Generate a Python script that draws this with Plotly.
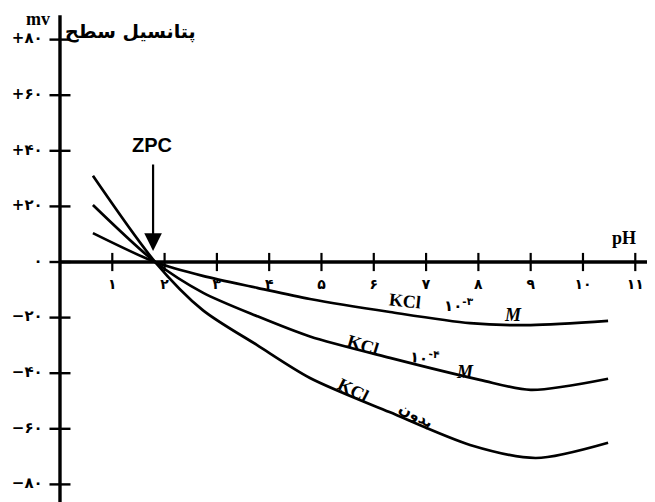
import plotly.graph_objects as go

# ---------------- data ----------------
x_ticks = [1, 2, 3, 4, 5, 6, 7, 8, 9, 10, 11]
x_tick_labels = ["۱", "۲", "۳", "۴", "۵", "۶", "۷", "۸", "۹", "۱۰", "۱۱"]
y_ticks = [80, 60, 40, 20, 0, -20, -40, -60, -80]
y_tick_labels = ["+۸۰", "+۶۰", "+۴۰", "+۲۰", "۰", "−۲۰", "−۴۰", "−۶۰", "−۸۰"]

# without KCl
ph_none = [0.63, 1.82, 2.73, 3.77, 4.78, 6.3, 7.84, 9.1, 10.48]
mv_none = [31, 0, -17.3, -29.9, -41.7, -54, -65.8, -70.5, -65]
# KCl 10^-4 M
ph_e4 = [0.63, 1.82, 2.73, 3.77, 4.78, 6.31, 8.03, 9.0, 10.48]
mv_e4 = [20.5, 0, -11.0, -19.5, -26.8, -34.5, -42.4, -46, -42]
# KCl 10^-3 M
ph_e3 = [0.63, 1.82, 2.73, 3.77, 4.78, 6.31, 7.84, 9.0, 10.48]
mv_e3 = [10.4, 0, -5.0, -9.3, -13.3, -18, -22, -22.7, -21.2]

zpc = 1.78

# ---------------- figure ----------------
fig = go.Figure()
ink = "#000000"

for xs, ys in [(ph_none, mv_none), (ph_e4, mv_e4), (ph_e3, mv_e3)]:
    fig.add_trace(go.Scatter(x=xs, y=ys, mode="lines",
                             line=dict(color=ink, width=2.7, shape="spline", smoothing=0.8),
                             hoverinfo="skip", showlegend=False))

# axis lines
fig.add_shape(type="line", x0=0, x1=0, y0=-95, y1=88.8, line=dict(color=ink, width=3.4))
fig.add_shape(type="line", x0=0, x1=11.8, y0=0, y1=0, line=dict(color=ink, width=3.4))

# tick marks
fig.add_trace(go.Scatter(x=x_ticks, y=[0] * len(x_ticks), mode="markers",
                         marker=dict(symbol="line-ns-open", size=13, color=ink,
                                     line=dict(color=ink, width=2.2)),
                         hoverinfo="skip", showlegend=False))
fig.add_trace(go.Scatter(x=[0] * len(y_ticks), y=y_ticks, mode="markers",
                         marker=dict(symbol="line-ew-open", size=15, color=ink,
                                     line=dict(color=ink, width=2.4)),
                         hoverinfo="skip", showlegend=False))

# tick labels
fig.add_trace(go.Scatter(x=x_ticks, y=[-8.3] * len(x_ticks), mode="text",
                         text=["<b>%s</b>" % t for t in x_tick_labels],
                         textfont=dict(family="DejaVu Sans", size=14, color=ink),
                         hoverinfo="skip", showlegend=False))
fig.add_trace(go.Scatter(x=[-0.33] * len(y_ticks), y=y_ticks, mode="text",
                         text=["<b>%s</b>" % t for t in y_tick_labels],
                         textposition="middle left",
                         textfont=dict(family="DejaVu Sans", size=15, color=ink),
                         hoverinfo="skip", showlegend=False))

serif = "Liberation Serif"
ann = [
    dict(x=-0.42, y=87.3, text="<b>mv</b>", font=dict(family=serif, size=18)),
    dict(x=1.34, y=83.0, text="<b>پتانسیل سطح</b>", font=dict(family="DejaVu Sans", size=19)),
    dict(x=10.78, y=8.6, text="<b>pH</b>", font=dict(family=serif, size=18)),
    dict(x=1.76, y=42, text="<b>ZPC</b>", font=dict(family="Liberation Sans", size=20)),
    # curve labels
    dict(x=6.60, y=-13.9, text="<b>KCl</b>", font=dict(family=serif, size=18), textangle=6),
    dict(x=7.62, y=-15.3, text="<b>۱۰<sup>-۳</sup></b>", font=dict(family="DejaVu Sans", size=15)),
    dict(x=8.66, y=-19.1, text="<b><i>M</i></b>", font=dict(family=serif, size=18)),
    dict(x=5.79, y=-29.9, text="<b>KCl</b>", font=dict(family=serif, size=18), textangle=17),
    dict(x=6.98, y=-34.3, text="<b>۱۰<sup>-۴</sup></b>", font=dict(family="DejaVu Sans", size=15), textangle=6),
    dict(x=7.74, y=-39.6, text="<b><i>M</i></b>", font=dict(family=serif, size=18)),
    dict(x=5.60, y=-46.2, text="<b>KCl</b>", font=dict(family=serif, size=18), textangle=27),
    dict(x=6.80, y=-55, text="<b>بدون</b>", font=dict(family="DejaVu Sans", size=15), textangle=28),
]
for a in ann:
    a.setdefault("showarrow", False)
    a["font"]["color"] = ink
    fig.add_annotation(xref="x", yref="y", **a)

# ZPC arrow
fig.add_annotation(x=zpc, y=4.0, xref="x", yref="y", text="", showarrow=True,
                   ax=0, ay=-88, arrowhead=2, arrowsize=1.6, arrowwidth=2.2, arrowcolor=ink)

# page body has an 8px margin, so the figure is offset by (8, 8) in the window
fig.update_layout(
    width=647, height=494,
    margin=dict(l=0, r=0, t=0, b=0),
    paper_bgcolor="white", plot_bgcolor="white",
    xaxis=dict(range=[-0.994, 11.377], visible=False, fixedrange=True),
    yaxis=dict(range=[-86.33, 91.37], visible=False, fixedrange=True),
    showlegend=False,
)

fig.write_html("out.html")
